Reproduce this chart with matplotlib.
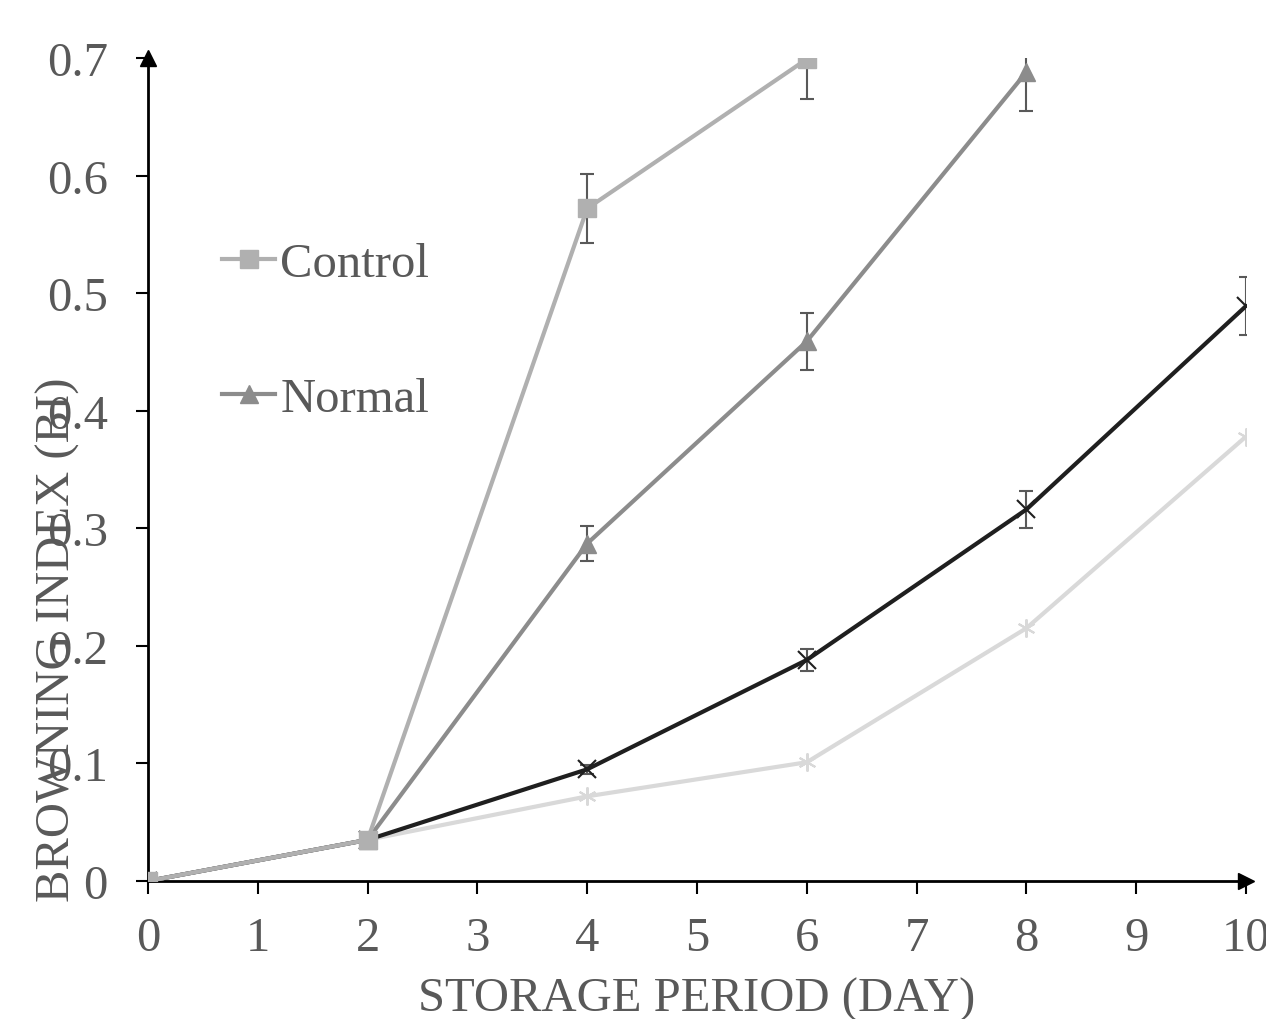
import matplotlib.pyplot as plt

plt.rcParams['font.family'] = ['Liberation Serif', 'DejaVu Serif']

days = [0, 2, 4, 6, 8, 10]

control = [0, 0.035, 0.572, 0.699]
control_err = [0, 0, 0.029, 0.034]
normal = [0, 0.035, 0.287, 0.459, 0.688]
normal_err = [0, 0, 0.015, 0.024, 0.033]
treat_a = [0, 0.035, 0.095, 0.188, 0.316, 0.489]
treat_a_err = [0, 0, 0.004, 0.009, 0.016, 0.025]
treat_b = [0, 0.035, 0.072, 0.101, 0.215, 0.378]

xticks = list(range(0, 11))
yticks = [0, 0.1, 0.2, 0.3, 0.4, 0.5, 0.6, 0.7]

fig = plt.figure(figsize=(12.66, 10.2), dpi=100)
ax = fig.add_axes([0.1169, 0.1353, 0.8673, 0.8069])

txt = '#595959'
ebar = '#595959'
fs = 35

ax.plot(days, treat_b, c='#d9d9d9', lw=3, marker=(6, 2, 0), ms=13, mew=1.5, zorder=3)
ax.errorbar(days, treat_a, yerr=treat_a_err, c='#1f1f1f', lw=3, marker='x', ms=13,
            mew=1.5, ecolor=ebar, elinewidth=1.5, capsize=5, capthick=1.5, zorder=4)
nrm = ax.errorbar(days[:5], normal, yerr=normal_err, c='#8c8c8c', lw=3, marker='^', ms=13,
                  ecolor=ebar, elinewidth=1.5, capsize=5, capthick=1.5, zorder=5)
ctl = ax.errorbar(days[:4], control, yerr=control_err, c='#b0b0b0', lw=3, marker='s', ms=13,
                  ecolor=ebar, elinewidth=1.5, capsize=5, capthick=1.5, zorder=6)

ax.set_xlim(0, 10)
ax.set_ylim(0, 0.7)
ax.set_xticks(xticks)
ax.set_yticks(yticks)
ax.set_xticklabels([str(t) for t in xticks])
ax.set_yticklabels(['0'] + ['%.1f' % t for t in yticks[1:]])
ax.tick_params(axis='both', labelsize=fs, labelcolor=txt, direction='out',
               length=9, width=1.5, color='black')
ax.tick_params(axis='x', pad=16)
ax.tick_params(axis='y', pad=20)

for s in ['top', 'right']:
    ax.spines[s].set_visible(False)
for s in ['left', 'bottom']:
    ax.spines[s].set_linewidth(2)

ax.plot(1, 0, '>k', ms=12, transform=ax.transAxes, clip_on=False)
ax.plot(0, 1, '^k', ms=12, transform=ax.transAxes, clip_on=False)

leg = ax.legend([ctl[0], nrm[0]], ['Control', 'Normal'], loc='upper left',
                bbox_to_anchor=(0.0674, 0.776), frameon=False, fontsize=fs,
                labelspacing=1.87, handlelength=1.1, handletextpad=0.1,
                borderaxespad=0, borderpad=0)
for t in leg.get_texts():
    t.set_color(txt)

fig.text(697 / 1266, 1 - 1000 / 1020, 'STORAGE PERIOD (DAY)', fontsize=fs,
         color=txt, ha='center', va='center')
fig.text(58 / 1266, 1 - 640 / 1020, 'BROWNING INDEX (BI)', fontsize=fs,
         color=txt, ha='center', va='center', rotation=90)

fig.savefig('out.png', dpi=100)
